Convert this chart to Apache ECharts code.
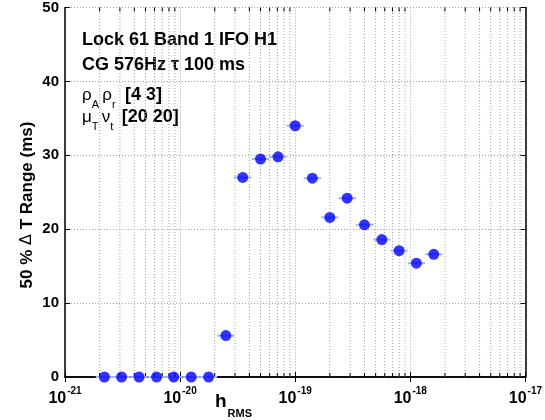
<!DOCTYPE html>
<html><head><meta charset="utf-8">
<script src="https://cdn.jsdelivr.net/npm/echarts@6/dist/echarts.min.js"></script>
<style>html,body{margin:0;padding:0;background:#fff}#c{width:545px;height:420px}</style>
</head><body><div id="c"></div>
<script>
// Data
var hRms = [2.2e-21, 3.1e-21, 4.4e-21, 6.25e-21, 8.8e-21, 1.25e-20, 1.77e-20, 2.5e-20, 3.5e-20, 5.0e-20,
            7.1e-20, 1.0e-19, 1.41e-19, 2.0e-19, 2.83e-19, 4.0e-19, 5.66e-19, 8.0e-19, 1.13e-18, 1.6e-18];
var rangeMs = [0, 0, 0, 0, 0, 0, 0, 5.6, 27.0, 29.5, 29.8, 34.0, 26.9, 21.6, 24.2, 20.6, 18.6, 17.1, 15.4, 16.6];
var yTicks = [0, 10, 20, 30, 40, 50];
var xDecadeExps = [-21, -20, -19, -18, -17];
var infoLines = ['Lock 61 Band 1 IFO H1', 'CG 576Hz \u03c4 100 ms'];

var FONT = '"Liberation Sans", Arial, sans-serif';
var ERR_HALF_LOG = 0.075;
// ECharts rounds very small numbers, so the log axis works in units of 1e-21
var UNIT_EXP = xDecadeExps[0];
var UNIT = Math.pow(10, UNIT_EXP);
var xMin = 1, xMax = Math.pow(10, xDecadeExps[xDecadeExps.length - 1] - UNIT_EXP);

var pts = hRms.map(function (x, i) { return [x / UNIT, rangeMs[i]]; });
var minor = [];
for (var d = 0; d < xDecadeExps.length - 1; d++) {
  var base = Math.pow(10, xDecadeExps[d] - UNIT_EXP);
  for (var m = 2; m <= 9; m++) minor.push([base * m, 0]);
}

var chart = echarts.init(document.getElementById('c'), null, {renderer: 'canvas'});
var GRID_COLOR = '#a0a0a0';
var gridLine = {show: true, lineStyle: {color: GRID_COLOR, type: [1, 2], width: 1}};
var subRich = function (extra) {
  return {
    g: {fontSize: 17, fontFamily: FONT, fill: '#000', verticalAlign: 'bottom'},
    sub: {fontSize: 11, fontFamily: FONT, fill: '#000', verticalAlign: 'bottom', padding: [0, 0, -6, 0]},
    b: {fontSize: 18, fontWeight: 'bold', fontFamily: FONT, fill: '#000', verticalAlign: 'bottom', padding: [0, 0, 0, extra]}
  };
};
chart.setOption({
  animation: false,
  grid: {left: 65, right: 18, top: 7, bottom: 43},
  xAxis: [{
    type: 'log', logBase: 10, min: xMin, max: xMax,
    axisLine: {lineStyle: {color: '#000', width: 1.5}},
    axisTick: {inside: true, length: 5, lineStyle: {color: '#000'}},
    splitLine: gridLine,
    axisLabel: {
      margin: 9, color: '#000',
      formatter: function (v) { return '{b|10}{s|' + (Math.round(Math.log10(v)) + UNIT_EXP) + '}'; },
      rich: {
        b: {fontSize: 16, fontWeight: 'bold', fontFamily: FONT, color: '#000', verticalAlign: 'bottom'},
        s: {fontSize: 10, fontWeight: 'bold', fontFamily: FONT, color: '#000', verticalAlign: 'bottom', padding: [0, 0, 11, 1]}
      }
    }
  }, {
    type: 'log', logBase: 10, position: 'top', min: xMin, max: xMax,
    axisLine: {lineStyle: {color: '#000', width: 1.5}},
    axisTick: {inside: true, length: 5, lineStyle: {color: '#000'}},
    axisLabel: {show: false}, splitLine: {show: false}
  }],
  yAxis: [{
    type: 'value', min: yTicks[0], max: yTicks[yTicks.length - 1], interval: 10,
    axisLine: {show: true, lineStyle: {color: '#000', width: 1.5}},
    axisTick: {show: true, inside: true, length: 5, lineStyle: {color: '#000'}},
    splitLine: gridLine,
    axisLabel: {color: '#000', fontSize: 15, fontWeight: 'bold', fontFamily: FONT, margin: 6}
  }, {
    type: 'value', position: 'right', min: yTicks[0], max: yTicks[yTicks.length - 1], interval: 10,
    axisLine: {show: true, lineStyle: {color: '#000', width: 1.5}},
    axisTick: {show: true, inside: true, length: 5, lineStyle: {color: '#000'}},
    axisLabel: {show: false}, splitLine: {show: false}
  }],
  series: [{
    type: 'custom', silent: true, z: 1, clip: false,
    data: minor,
    renderItem: function (params, api) {
      var x = api.value(0);
      var b = api.coord([x, 0]), t = api.coord([x, 50]);
      return {type: 'group', children: [
        {type: 'line', shape: {x1: b[0], y1: b[1], x2: t[0], y2: t[1]}, style: {stroke: GRID_COLOR, lineWidth: 1, lineDash: [1, 2]}},
        {type: 'line', shape: {x1: b[0], y1: b[1], x2: b[0], y2: b[1] - 4}, style: {stroke: '#000', lineWidth: 1}},
        {type: 'line', shape: {x1: t[0], y1: t[1], x2: t[0], y2: t[1] + 4}, style: {stroke: '#000', lineWidth: 1}}
      ]};
    }
  }, {
    type: 'custom', silent: true, z: 2, clip: false,
    data: pts,
    renderItem: function (params, api) {
      var x = api.value(0), y = api.value(1);
      var f = Math.pow(10, ERR_HALF_LOG);
      var a = api.coord([x / f, y]), c = api.coord([x * f, y]);
      return {type: 'line', shape: {x1: a[0], y1: a[1], x2: c[0], y2: c[1]}, style: {stroke: '#9db4ff', lineWidth: 2}};
    }
  }, {
    type: 'scatter', z: 3, clip: false,
    data: pts, symbol: 'circle', symbolSize: 11,
    itemStyle: {color: '#0000ff'}
  }],
  graphic: [
    {type: 'text', left: 82, top: 31, style: {text: infoLines[0], font: 'bold 18px ' + FONT, fill: '#000'}},
    {type: 'text', left: 82, top: 56, style: {text: infoLines[1], font: 'bold 18px ' + FONT, fill: '#000'}},
    {type: 'text', left: 82, top: 86, style: {
      text: '{g|\u03c1}{sub|A} {g|\u03c1}{sub|r} {b|[4 3]}', rich: subRich(6)}},
    {type: 'text', left: 82, top: 108, style: {
      text: '{g|\u03bc}{sub|T} {g|\u03bd}{sub|t} {b|[20 20]}', rich: subRich(5)}},
    {type: 'text', x: 27, y: 205, rotation: Math.PI / 2, style: {
      text: '{t|50 % }{d|\u0394}{t| T Range (ms)}', align: 'center', verticalAlign: 'middle',
      rich: {
        t: {fontSize: 17, fontWeight: 'bold', fontFamily: FONT, fill: '#000'},
        d: {fontSize: 16, fontWeight: 'normal', fontFamily: '"DejaVu Sans", ' + FONT, fill: '#000'}
      }}},
    {type: 'text', left: 215, top: 392, style: {
      text: '{h|h}{s|RMS}',
      rich: {
        h: {fontSize: 19, fontWeight: 'bold', fontFamily: FONT, fill: '#000', verticalAlign: 'bottom'},
        s: {fontSize: 11, fontWeight: 'bold', fontFamily: FONT, fill: '#000', verticalAlign: 'bottom', padding: [0, 0, -8, 1]}
      }}}
  ]
});
</script></body></html>
